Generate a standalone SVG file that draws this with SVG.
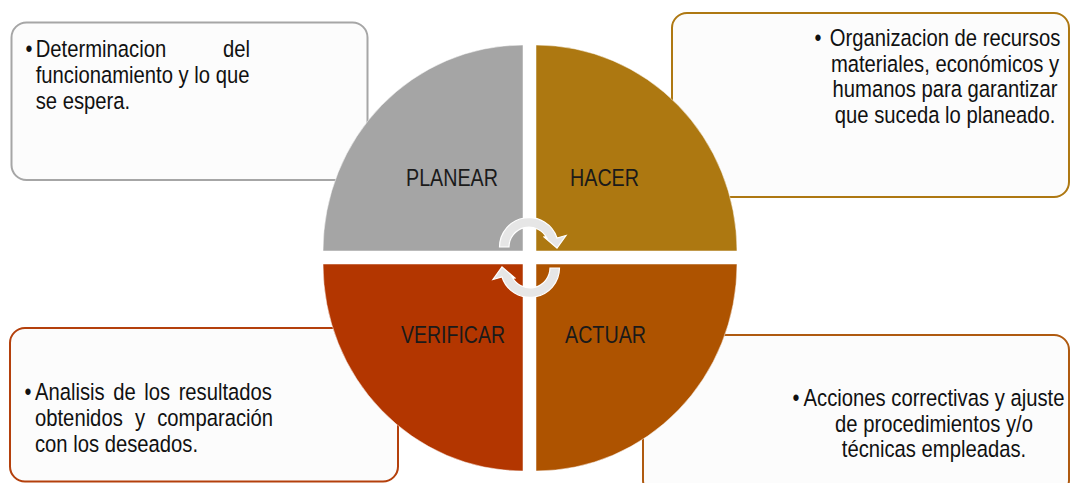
<svg xmlns="http://www.w3.org/2000/svg" width="1071" height="483" viewBox="0 0 1071 483">
<defs>
<style>
.box{fill:#fcfcfc;stroke-width:2}
.txt{font-family:"Liberation Sans",Arial,sans-serif;font-size:23.5px;fill:#111111}
.bul{font-family:"Liberation Sans",Arial,sans-serif;font-size:23px;fill:#111111}
.lbl{font-family:"Liberation Sans",Arial,sans-serif;font-size:24px;fill:#1a1a1a}
.quad{stroke:#ffffff;stroke-width:1;stroke-opacity:0.5}
.arrow{fill:#e6e6e6;stroke:#ffffff;stroke-width:1.2}
</style>
</defs>
<rect width="1071" height="483" fill="#ffffff"/>

<g id="box-planear">
<rect class="box" x="11.5" y="22.5" width="356" height="157.5" rx="15" stroke="#a6a6a6"/>
<g transform="scale(0.8613 1)">
<text class="bul" x="33.7" y="57" text-anchor="middle">•</text>
<text class="txt"><tspan x="41.45" y="57">Determinacion</tspan><tspan x="258.9" y="57">del</tspan><tspan x="41.45" y="83">funcionamiento y lo que</tspan><tspan x="41.45" y="109">se espera.</tspan></text>
</g>
</g>

<g id="box-hacer">
<rect class="box" x="672" y="13" width="397" height="184" rx="15" stroke="#ae7812"/>
<g transform="scale(0.8613 1)">
<text class="bul" x="949.7" y="46" text-anchor="middle">•</text>
<text class="txt" text-anchor="middle"><tspan x="1097.2" y="46">Organizacion de recursos</tspan><tspan x="1097.2" y="72">materiales, económicos y</tspan><tspan x="1097.2" y="97">humanos para garantizar</tspan><tspan x="1097.2" y="123">que suceda lo planeado.</tspan></text>
</g>
</g>

<g id="box-verificar">
<rect class="box" x="10" y="328" width="388" height="153.5" rx="15" stroke="#b4400c"/>
<g transform="scale(0.8613 1)">
<text class="bul" x="32.5" y="400" text-anchor="middle">•</text>
<text class="txt"><tspan x="40.64" y="400">Analisis</tspan><tspan x="131.4" y="400">de</tspan><tspan x="167.4" y="400">los</tspan><tspan x="207.4" y="400">resultados</tspan><tspan x="40.64" y="426">obtenidos</tspan><tspan x="156.6" y="426">y</tspan><tspan x="182.5" y="426">comparación</tspan><tspan x="40.64" y="452">con los deseados.</tspan></text>
</g>
</g>

<g id="box-actuar">
<rect class="box" x="643" y="335" width="426" height="160" rx="15" stroke="#af5a10"/>
<g transform="scale(0.8613 1)">
<text class="bul" x="924.2" y="406" text-anchor="middle">•</text>
<text class="txt" text-anchor="middle"><tspan x="1084.4" y="406">Acciones correctivas y ajuste</tspan><tspan x="1084.4" y="432">de procedimientos y/o</tspan><tspan x="1084.4" y="457">técnicas empleadas.</tspan></text>
</g>
</g>

<g id="node-planear">
<path class="quad" d="M523,251 L323,251 A200,206 0 0 1 523,45 Z" fill="#a5a5a5"/>
<text class="lbl" x="406" y="186" textLength="92" lengthAdjust="spacingAndGlyphs">PLANEAR</text>
</g>
<g id="node-hacer">
<path class="quad" d="M536,251 L536,45 A201,206 0 0 1 737,251 Z" fill="#ad7811"/>
<text class="lbl" x="570" y="186" textLength="69" lengthAdjust="spacingAndGlyphs">HACER</text>
</g>
<g id="node-actuar">
<path class="quad" d="M536,264 L737,264 A201,207 0 0 1 536,471 Z" fill="#ae5300"/>
<text class="lbl" x="565" y="343" textLength="81" lengthAdjust="spacingAndGlyphs">ACTUAR</text>
</g>
<g id="node-verificar">
<path class="quad" d="M523,264 L523,471 A200,207 0 0 1 323,264 Z" fill="#b33600"/>
<text class="lbl" x="401" y="343" textLength="104" lengthAdjust="spacingAndGlyphs">VERIFICAR</text>
</g>

<g id="connectors">
<path class="arrow" d="M499.5,247 A29.5,29.5 0 0 1 557.04,238 L566,235.5 L557,248 L543.5,236.5 L546.79,238 A20,20 0 0 0 509,247 Z"/>
<path class="arrow" transform="rotate(180 529.5 257.5)" d="M499.5,247 A29.5,29.5 0 0 1 557.04,238 L566,235.5 L557,248 L543.5,236.5 L546.79,238 A20,20 0 0 0 509,247 Z"/>
</g>
</svg>
